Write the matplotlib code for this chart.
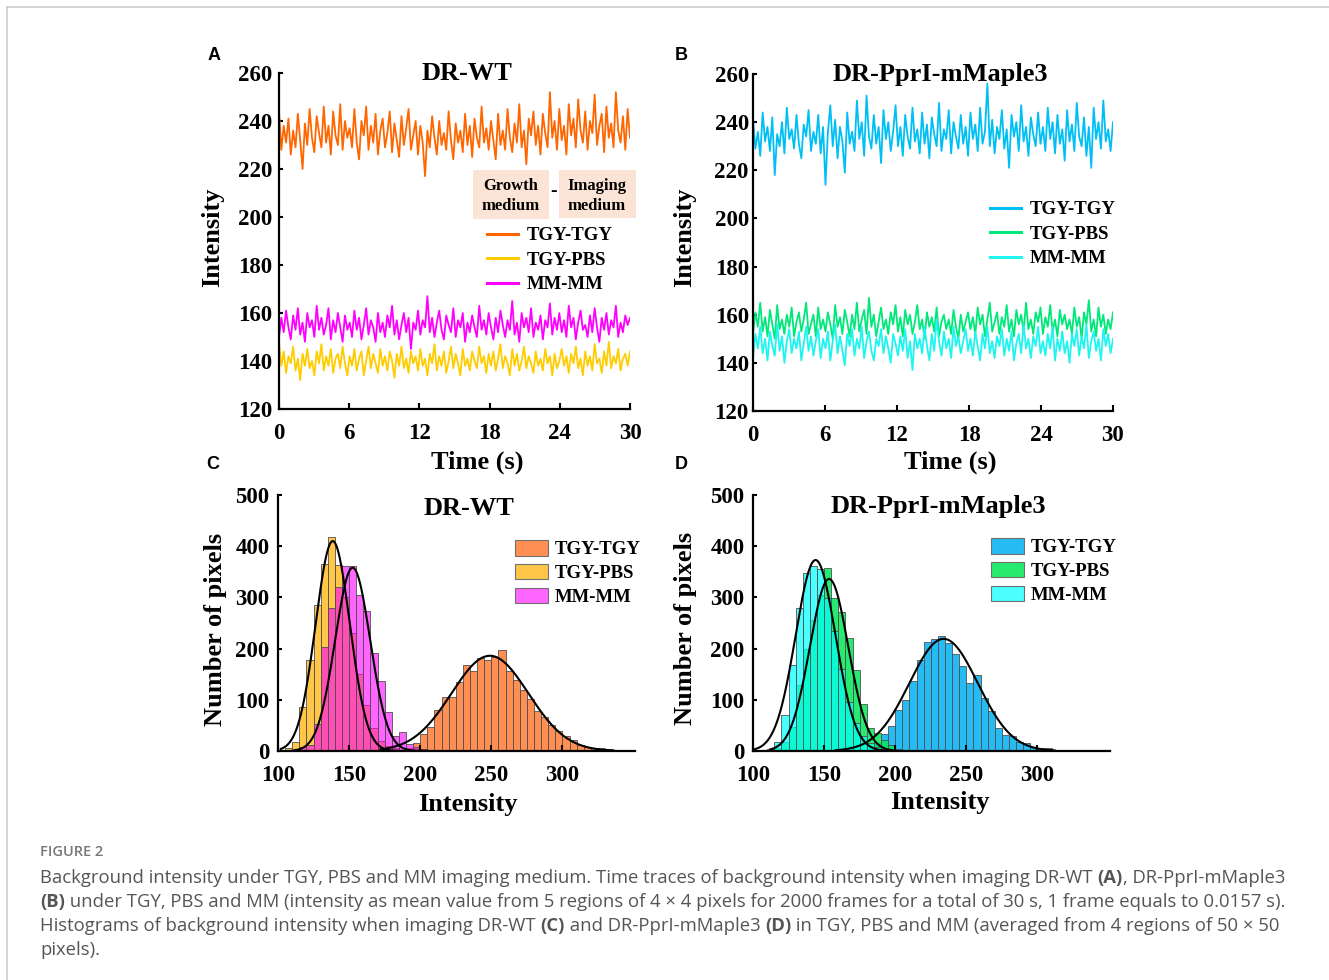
import numpy as np
import matplotlib
matplotlib.use('Agg')
import matplotlib.pyplot as plt
from matplotlib.patches import Rectangle, Patch
from matplotlib.lines import Line2D

# ---------------- data ----------------
# Panel A: DR-WT time traces (sampled frames, intensity)
wt_tgy_tgy = [244, 228, 238, 231, 241, 226, 236, 229, 243, 232, 220, 239, 230, 245, 233, 227, 242, 235, 229, 246, 231, 238, 226, 244, 234, 230, 247, 228, 240, 233,
              237, 229, 245, 231, 224, 240, 234, 246, 228, 238, 231, 243, 226, 236, 241, 229, 235, 244, 227, 239, 232, 225, 242, 230, 237, 245, 228, 234, 240, 226,
              238, 231, 217, 236, 229, 242, 233, 226, 240, 230, 235, 228, 244, 232, 224, 239, 231, 236, 227, 243, 230, 238, 225, 241, 233, 229, 246, 231, 237, 228,
              240, 232, 224, 243, 230, 236, 228, 245, 233, 227, 239, 231, 247, 229, 236, 222, 241, 234, 244, 230, 238, 226, 243, 235, 229, 252, 233, 240, 228, 245,
              232, 238, 226, 247, 234, 241, 229, 249, 236, 231, 244, 228, 240, 235, 251, 230, 238, 243, 227, 246, 233, 239, 229, 252, 236, 231, 242, 228, 245, 233]
wt_tgy_pbs = [148, 138, 144, 135, 142, 139, 146, 136, 141, 132, 143, 138, 145, 137, 140, 134, 144, 139, 147, 136, 142, 138, 145, 135, 141, 143, 137, 146, 139, 134,
              142, 138, 145, 136, 141, 144, 134, 140, 146, 137, 143, 139, 135, 145, 138, 142, 136, 144, 140, 133, 143, 138, 146, 137, 141, 135, 144, 139, 142, 136,
              145, 138, 141, 134, 143, 139, 147, 136, 142, 138, 144, 135, 140, 146, 137, 143, 139, 134, 145, 138, 141, 136, 144, 140, 137, 146, 139, 142, 135, 143,
              138, 144, 136, 141, 147, 137, 142, 139, 134, 145, 138, 143, 136, 140, 146, 137, 142, 139, 135, 144, 138, 141, 136, 145, 139, 142, 134, 143, 137, 140,
              145, 138, 142, 135, 143, 139, 146, 137, 141, 134, 144, 138, 142, 136, 147, 139, 141, 135, 144, 138, 148, 137, 142, 139, 145, 136, 141, 143, 138, 144]
wt_mm_mm = [150, 158, 152, 161, 154, 149, 159, 153, 162, 151, 156, 148, 160, 154, 157, 150, 163, 153, 158, 151, 155, 162, 149, 157, 152, 160, 154, 148, 159, 153,
            156, 150, 161, 153, 158, 149, 155, 162, 151, 157, 154, 148, 160, 152, 156, 150, 159, 154, 163, 151, 157, 149, 155, 160, 152, 158, 145, 156, 153, 161,
            151, 157, 154, 167, 152, 158, 150, 156, 161, 153, 149, 159, 155, 152, 162, 150, 157, 154, 160, 148, 156, 152, 159, 154, 150, 163, 153, 157, 151, 160,
            154, 149, 158, 152, 161, 155, 150, 157, 153, 165, 151, 156, 148, 160, 154, 158, 152, 162, 150, 156, 153, 159, 149, 157, 154, 164, 151, 158, 153, 160,
            152, 157, 150, 163, 154, 158, 149, 156, 161, 153, 155, 150, 159, 152, 162, 154, 148, 158, 153, 160, 151, 157, 154, 163, 150, 156, 152, 159, 155, 158]

# Panel B: DR-PprI-mMaple3 time traces
pp_tgy_tgy = [241, 229, 236, 226, 244, 232, 238, 228, 242, 218, 235, 230, 240, 227, 246, 233, 237, 229, 243, 231, 225, 239, 234, 245, 228, 236, 231, 243, 227, 238,
              214, 236, 247, 230, 241, 225, 238, 232, 219, 244, 231, 236, 228, 249, 233, 240, 226, 251, 234, 229, 243, 231, 238, 223, 245, 233, 240, 228, 236, 247,
              230, 238, 226, 243, 234, 229, 246, 232, 237, 227, 244, 231, 239, 225, 242, 235, 230, 248, 228, 237, 233, 245, 227, 240, 234, 229, 243, 231, 238, 226,
              244, 233, 239, 228, 246, 231, 236, 256, 230, 241, 227, 238, 233, 245, 229, 237, 221, 243, 234, 240, 228, 247, 232, 238, 226, 242, 235, 230, 244, 231,
              238, 228, 246, 233, 240, 227, 243, 231, 237, 224, 245, 232, 239, 228, 248, 234, 230, 242, 226, 238, 221, 246, 233, 240, 229, 249, 232, 237, 228, 240]
pp_tgy_pbs = [152, 161, 155, 165, 153, 159, 151, 162, 156, 150, 164, 154, 158, 152, 160, 155, 163, 151, 157, 161, 153, 158, 165, 152, 156, 160, 151, 163, 154, 158,
              153, 161, 156, 150, 164, 155, 159, 152, 162, 157, 151, 160, 154, 165, 153, 158, 162, 152, 167, 155, 160, 151, 157, 163, 154, 158, 152, 161, 156, 164,
              153, 159, 151, 162, 156, 160, 152, 157, 164, 154, 158, 150, 161, 155, 159, 153, 163, 151, 157, 160, 154, 158, 152, 162, 155, 150, 160, 153, 157, 161,
              154, 159, 152, 163, 156, 160, 151, 158, 165, 153, 157, 161, 152, 159, 155, 164, 153, 158, 151, 162, 156, 160, 153, 165, 154, 158, 152, 161, 157, 163,
              152, 159, 155, 164, 153, 158, 151, 162, 156, 160, 154, 158, 152, 163, 155, 159, 150, 161, 156, 166, 153, 158, 151, 163, 155, 160, 152, 158, 154, 161]
pp_mm_mm = [142, 152, 146, 155, 144, 150, 141, 153, 147, 143, 156, 145, 151, 140, 149, 154, 144, 150, 146, 153, 141, 148, 155, 145, 151, 143, 149, 154, 142, 150,
            146, 153, 141, 149, 156, 144, 151, 145, 139, 152, 147, 154, 143, 150, 146, 155, 142, 149, 153, 145, 141, 150, 147, 154, 144, 151, 146, 140, 152, 148,
            143, 151, 145, 154, 142, 149, 137, 152, 146, 150, 144, 155, 147, 141, 152, 145, 158, 149, 143, 153, 146, 150, 142, 155, 147, 151, 144, 149, 154, 145,
            150, 143, 153, 147, 141, 152, 146, 155, 144, 149, 142, 151, 147, 154, 143, 150, 145, 153, 141, 148, 152, 144, 156, 146, 150, 142, 151, 147, 155, 144,
            149, 143, 152, 146, 155, 141, 150, 145, 153, 144, 149, 140, 152, 147, 154, 143, 151, 146, 156, 142, 149, 153, 145, 150, 141, 154, 147, 152, 144, 150]
trace_duration = 30  # s

# Panel C: DR-WT histograms (bin width 5, first bin left edge, counts)
bin_width = 5
wt_hist_start = [190, 105, 110]
wt_hist_counts = [
    [5, 15, 33, 46, 80, 106, 106, 134, 168, 156, 181, 178, 184, 197, 156, 139, 119, 101, 79, 67, 51, 40, 30, 21, 12, 7, 6, 5, 4],
    [5, 17, 85, 177, 286, 366, 417, 364, 300, 230, 150, 90, 45, 20, 10, 5, 2],
    [3, 8, 11, 53, 203, 280, 320, 361, 361, 304, 273, 192, 136, 76, 29, 37, 14, 8, 4, 2],
]
# gaussian fits: centre, amplitude, sigma, curve range
wt_fit_mu = [249, 138.5, 152.5]
wt_fit_amp = [186, 410, 358]
wt_fit_sigma = [27, 12, 12.3]
wt_fit_range = [(172, 336), (102, 188), (112, 205)]

# Panel D: DR-PprI-mMaple3 histograms
pp_hist_start = [180, 115, 110]
pp_hist_counts = [
    [6, 15, 33, 48, 80, 99, 137, 177, 213, 218, 224, 211, 189, 166, 132, 148, 104, 78, 44, 31, 29, 18, 16, 8, 6, 5, 2],
    [5, 18, 47, 128, 200, 255, 305, 357, 298, 272, 220, 158, 91, 44, 35, 21, 11, 4],
    [4, 18, 71, 168, 280, 347, 362, 356, 298, 235, 160, 95, 55, 30, 15, 8, 4],
]
pp_fit_mu = [234, 153.5, 144]
pp_fit_amp = [219, 336, 373]
pp_fit_sigma = [24, 13.5, 14]
pp_fit_range = [(158, 312), (112, 200), (101, 195)]

labels = ['TGY-TGY', 'TGY-PBS', 'MM-MM']

wt_line_colors = ['#ff6600', '#ffcc00', '#ff00ff']
pp_line_colors = ['#00bff5', '#00e87a', '#1ef5f0']
wt_bar_colors = [('#ff6a1a', 0.75), ('#ffb000', 0.72), ('#ff00ff', 0.6)]
pp_bar_colors = [('#00b0f0', 0.85), ('#00e855', 0.85), ('#00ffff', 0.7)]

# ---------------- figure ----------------
plt.rcParams['font.family'] = 'Liberation Serif'
plt.rcParams['font.weight'] = 'bold'

W, H = 1329, 980
fig = plt.figure(figsize=(W / 100, H / 100), dpi=100)


def px_axes(l, t, r, b):
    return fig.add_axes([l / W, 1 - b / H, (r - l) / W, (b - t) / H])


def style(ax, ypad):
    for s in ['top', 'right']:
        ax.spines[s].set_visible(False)
    for s in ['left', 'bottom']:
        ax.spines[s].set_linewidth(1.6)
    ax.tick_params(axis='both', direction='in', labelsize=16.5, width=1.5)
    ax.tick_params(axis='x', length=4, pad=10)
    ax.tick_params(axis='y', length=3, pad=ypad)
    for lab in ax.get_xticklabels() + ax.get_yticklabels():
        lab.set_fontweight('bold')


def ax_text(ax, x, y, s, size=19, **kw):
    ax.text(x, y, s, transform=ax.transAxes, ha='center', va='center',
            fontsize=size, fontweight='bold', **kw)


# ---- A / B: time traces ----
trace_sets = [
    (px_axes(279, 73, 630, 409), [wt_tgy_tgy, wt_tgy_pbs, wt_mm_mm], wt_line_colors,
     'DR-WT', (0.536, 1.0), (0.564, -0.158), (-0.188, 0.512), (487, 227), 5),
    (px_axes(753, 74, 1113, 411), [pp_tgy_tgy, pp_tgy_pbs, pp_mm_mm], pp_line_colors,
     'DR-PprI-mMaple3', (0.519, 1.0), (0.547, -0.151), (-0.189, 0.516), (990, 201), 3),
]
for ax, series, cols, title, tpos, xlpos, ylpos, legpos, ypad in trace_sets:
    for vals, c, lab in zip(series, cols, labels):
        t = np.linspace(0, trace_duration, len(vals))
        ax.plot(t, vals, color=c, lw=1.3, label=lab)
    ax.set_xlim(0, 30)
    ax.set_ylim(120, 260)
    ax.set_xticks(range(0, 31, 6))
    ax.set_yticks(range(120, 261, 20))
    style(ax, ypad)
    ax_text(ax, *tpos, title)
    ax_text(ax, *xlpos, 'Time (s)')
    ax_text(ax, *ylpos, 'Intensity', rotation=90)
    leg_handles = [Line2D([], [], color=c, lw=2.2) for c in cols]
    fig.legend(leg_handles, labels, loc='upper left',
               bbox_to_anchor=(legpos[0] / W, 1 - legpos[1] / H),
               frameon=False, borderpad=0, borderaxespad=0, handlelength=1.65,
               handletextpad=0.45, labelspacing=0.4,
               prop={'family': 'Liberation Serif', 'weight': 'bold', 'size': 13.5})

# growth / imaging medium header in A
box_col = '#fbe4d5'
fig.add_artist(Rectangle((473 / W, 1 - 219 / H), 76 / W, 49 / H, transform=fig.transFigure,
                         facecolor=box_col, edgecolor='none'))
fig.add_artist(Rectangle((559 / W, 1 - 218 / H), 77 / W, 48 / H, transform=fig.transFigure,
                         facecolor=box_col, edgecolor='none'))
fig.text(511 / W, 1 - 196 / H, 'Growth\nmedium', ha='center', va='center', fontsize=12,
         fontweight='bold', linespacing=1.25)
fig.text(597 / W, 1 - 196 / H, 'Imaging\nmedium', ha='center', va='center', fontsize=12,
         fontweight='bold', linespacing=1.25)
fig.text(554 / W, 1 - 192 / H, '-', ha='center', va='center', fontsize=14, fontweight='bold')

# ---- C / D: histograms ----
hist_sets = [
    (px_axes(278, 495, 635, 751), wt_hist_start, wt_hist_counts, wt_bar_colors,
     wt_fit_mu, wt_fit_amp, wt_fit_sigma, wt_fit_range,
     'DR-WT', (0.535, 0.949), (0.532, -0.21), (-0.176, 0.473), (515, 540)),
    (px_axes(753, 495, 1110, 751), pp_hist_start, pp_hist_counts, pp_bar_colors,
     pp_fit_mu, pp_fit_amp, pp_fit_sigma, pp_fit_range,
     'DR-PprI-mMaple3', (0.518, 0.957), (0.524, -0.2), (-0.188, 0.477), (991, 538)),
]
for (ax, starts, counts, cols, mus, amps, sigs, rngs,
     title, tpos, xlpos, ylpos, legpos) in hist_sets:
    for st, cnt, (c, a) in zip(starts, counts, cols):
        edges = st + bin_width * np.arange(len(cnt))
        ax.bar(edges, cnt, width=bin_width, align='edge',
               facecolor=matplotlib.colors.to_rgba(c, a),
               edgecolor='#505050', linewidth=0.6)
    for mu, amp, sg, (lo, hi) in zip(mus, amps, sigs, rngs):
        xx = np.linspace(lo, hi, 300)
        ax.plot(xx, amp * np.exp(-(xx - mu) ** 2 / (2 * sg ** 2)), color='black', lw=1.5)
    ax.set_xlim(100, 351)
    ax.set_ylim(0, 500)
    ax.set_xticks([100, 150, 200, 250, 300])
    ax.set_yticks(range(0, 501, 100))
    style(ax, 6)
    ax_text(ax, *tpos, title)
    ax_text(ax, *xlpos, 'Intensity')
    ax_text(ax, *ylpos, 'Number of pixels', rotation=90)
    patches = [Patch(facecolor=matplotlib.colors.to_rgba(c, a), edgecolor='#707070', lw=0.8)
               for c, a in cols]
    fig.legend(patches, labels, loc='upper left',
               bbox_to_anchor=(legpos[0] / W, 1 - legpos[1] / H),
               frameon=False, borderpad=0, borderaxespad=0, handlelength=1.75,
               handleheight=0.9, handletextpad=0.35, labelspacing=0.3,
               prop={'family': 'Liberation Serif', 'weight': 'bold', 'size': 13.5})

# panel letters
for letter, (x, y) in zip('ABCD', [(214, 56), (681, 56), (213, 464), (681, 464)]):
    fig.text(x / W, 1 - y / H, letter, ha='center', va='center', fontsize=13,
             fontweight='bold', family='Liberation Sans')

# page frame
fig.add_artist(Line2D([7 / W, 1], [1 - 7 / H, 1 - 7 / H], transform=fig.transFigure,
                      color='#cccccc', lw=1.2))
fig.add_artist(Line2D([7 / W, 7 / W], [0, 1 - 7 / H], transform=fig.transFigure,
                      color='#cccccc', lw=1.2))

# caption
fig.text(40 / W, 1 - 852 / H, 'FIGURE 2', ha='left', va='center', fontsize=10.5,
         family='Open Sans', fontweight='semibold', color='#777777')

caption_lines = [
    [('Background intensity under TGY, PBS and MM imaging medium. Time traces of background intensity when imaging DR-WT ', 'normal'),
     ('(A)', 'bold'), (', DR-PprI-mMaple3', 'normal')],
    [('(B)', 'bold'), (' under TGY, PBS and MM (intensity as mean value from 5 regions of 4 \u00d7 4 pixels for 2000 frames for a total of 30 s, 1 frame equals to 0.0157 s).', 'normal')],
    [('Histograms of background intensity when imaging DR-WT ', 'normal'), ('(C)', 'bold'),
     (' and DR-PprI-mMaple3 ', 'normal'), ('(D)', 'bold'),
     (' in TGY, PBS and MM (averaged from 4 regions of 50 \u00d7 50', 'normal')],
    [('pixels).', 'normal')],
]
renderer = fig.canvas.get_renderer()
for i, segs in enumerate(caption_lines):
    x = 40 / W
    y = 1 - (878 + 24 * i) / H
    for txt, wt in segs:
        t = fig.text(x, y, txt, ha='left', va='center', fontsize=13.3, family='Open Sans',
                     fontweight=wt, color='#555555')
        x += t.get_window_extent(renderer).width / W

fig.savefig('out.png', dpi=100)
